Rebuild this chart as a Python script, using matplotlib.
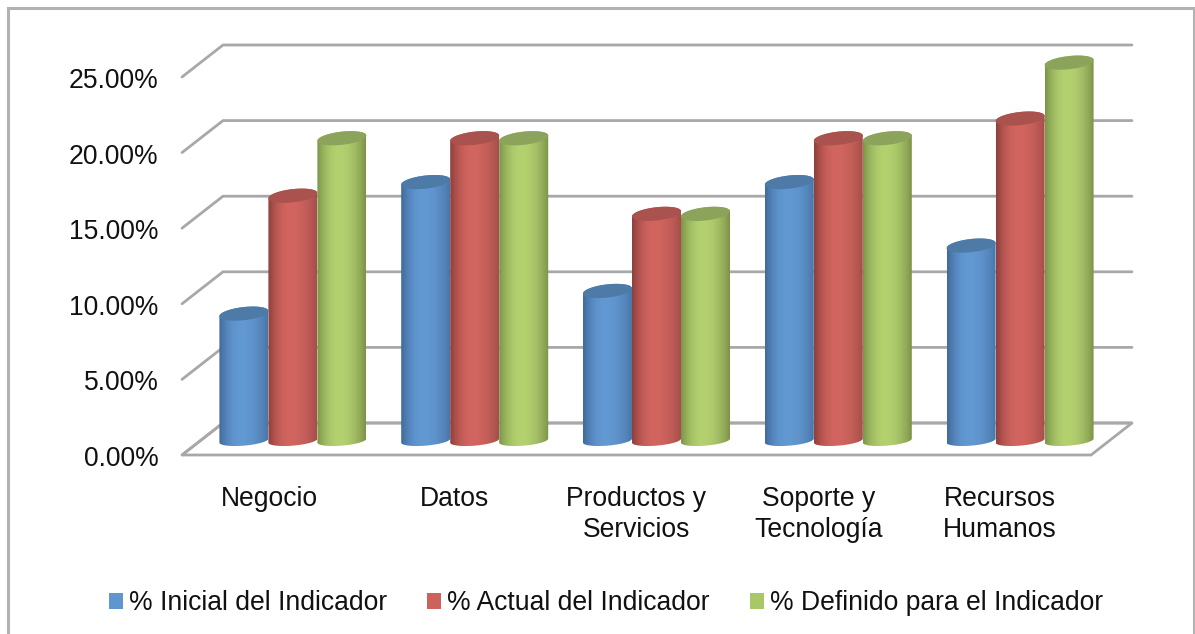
import matplotlib
matplotlib.use("Agg")
import matplotlib.pyplot as plt
import numpy as np
from matplotlib.colors import to_rgb
from matplotlib.patches import Patch, PathPatch, Polygon, Rectangle
from matplotlib.path import Path
from matplotlib.transforms import ScaledTranslation

plt.rcParams['font.family'] = ['Liberation Sans', 'DejaVu Sans']

categorias = ['Negocio', 'Datos', 'Productos y\nServicios', 'Soporte y\nTecnología', 'Recursos\nHumanos']
inicial = [8.4, 17.1, 9.9, 17.1, 12.9]
actual = [16.2, 20, 15, 20, 21.3]
definido = [20, 20, 15, 20, 25]
yticks = [0, 5, 10, 15, 20, 25]
ylabels = ['0.00%', '5.00%', '10.00%', '15.00%', '20.00%', '25.00%']
xticks = [0.48, 1.5, 2.5, 3.5, 4.5]
series = ['% Inicial del Indicador', '% Actual del Indicador', '% Definido para el Indicador']

W, H = 1195, 634
GRIS = '#a8a8a8'

# sombreado de cada cilindro: (borde izq, centro, borde der, tapa)
estilos = [
    ('#41699a', '#6299d3', '#4a76a8', '#4e7aa8'),
    ('#8c3f3c', '#d2655f', '#a54e4a', '#a9524e'),
    ('#7b9449', '#b4d170', '#7c9249', '#8ba35a'),
]
leyenda = ['#6096cf', '#cd625d', '#a9c769']

fig = plt.figure(figsize=(W / 100, H / 100), dpi=100)
fig.patches.append(Rectangle((8 / W, -0.05), 1186 / W, 1.05 - 8 / H, transform=fig.transFigure,
                             fill=False, ec='#b2b2b2', lw=2.2))

# ejes: plano frontal del grafico
ax = fig.add_axes([182 / W, 1 - 455 / H, 909 / W, 378 / H])
ax.set_xlim(0, 5)
ax.set_ylim(0, 25)
for s in ax.spines.values():
    s.set_visible(False)
ax.patch.set_alpha(0)

# profundidad del piso y las paredes, en unidades de datos
prof_x = 41 / 181.8
prof_y = 32 / 15.12

for v in yticks:
    ax.plot([0, prof_x, 5 + prof_x], [v, v + prof_y, v + prof_y], color=GRIS, lw=2,
            clip_on=False, zorder=1, solid_capstyle='round')
ax.add_patch(Polygon([(0, 0), (5, 0), (5 + prof_x, prof_y), (prof_x, prof_y)], closed=True,
                     fill=False, ec=GRIS, lw=2, clip_on=False, zorder=1.1))

ancho = 49 / 181.8
base_x = 0.11
base_y = 0.95
t = np.linspace(0, 2 * np.pi, 121)


def elipse(cx, cy, a, b, k, tt):
    return np.column_stack([cx + a * np.cos(tt), cy + b * np.sin(tt) + k * np.cos(tt)])


def cilindro(cx, v, estilo, z):
    a = ancho / 2
    y1 = base_y + v
    tapa_b, tapa_k = 6.6 / 15.12, 2.6 / 15.12
    abajo = elipse(cx, base_y, a, 5 / 15.12, 2 / 15.12, np.linspace(np.pi, 2 * np.pi, 60))
    arriba = elipse(cx, y1, a, tapa_b, tapa_k, np.linspace(0, np.pi, 60))
    cuerpo = PathPatch(Path(np.vstack([abajo, arriba, abajo[:1]]), closed=True), fc='none', ec='none')
    ax.add_patch(cuerpo)
    cuerpo.set_clip_on(False)

    # degradado horizontal: oscuro en los bordes, claro hacia el centro
    xs = np.linspace(0, 1, 200)
    izq, centro, der = [np.array(to_rgb(c)) for c in estilo[:3]]
    grad = np.zeros((1, 200, 3))
    for n, x in enumerate(xs):
        if x < 0.45:
            f = 1 - (1 - x / 0.45) ** 2
            grad[0, n] = izq + (centro - izq) * f
        else:
            f = 1 - ((x - 0.45) / 0.55) ** 2
            grad[0, n] = der + (centro - der) * f
    im = ax.imshow(grad, extent=[cx - a, cx + a, base_y - 1, y1 + 1], aspect='auto', zorder=z,
                   interpolation='bilinear')
    # la imagen sobresale de los ejes, asi que se recorta solo con el cilindro
    im.set_clip_box(fig.bbox)
    im.set_clip_path(cuerpo)
    ax.add_patch(Polygon(elipse(cx, y1, a, tapa_b, tapa_k, t), closed=True, fc=estilo[3], ec='none',
                         zorder=z + 0.01, clip_on=False))


for i in range(len(categorias)):
    centro_grupo = i + 0.5 + base_x
    for j, valores in enumerate([inicial, actual, definido]):
        cilindro(centro_grupo + (j - 1) * ancho, valores[i], estilos[j], 3 + j + i * 0.1)

ax.set_xlim(0, 5)
ax.set_ylim(0, 25)

ax.set_yticks(yticks, ylabels, fontsize=19.1, color='#111111')
ax.set_xticks(xticks, categorias, fontsize=19.1, color='#111111', linespacing=1.26)
ax.tick_params(axis='y', length=0, pad=17)
ax.tick_params(axis='x', length=0, pad=22.5)
for lab in ax.get_yticklabels():
    lab.set_transform(lab.get_transform() + ScaledTranslation(0, -1 / 100, fig.dpi_scale_trans))

handles = [Patch(fc=c, ec='none') for c in leyenda]
fig.legend(handles, series, loc='center left', bbox_to_anchor=(109 / W, 1 - 603.5 / H), ncol=3, frameon=False,
           fontsize=19.1, handlelength=0.54, handleheight=0.54, handletextpad=0.22, columnspacing=1.5,
           borderpad=0, borderaxespad=0, labelcolor='#111111')

fig.savefig('out.png', dpi=100)
